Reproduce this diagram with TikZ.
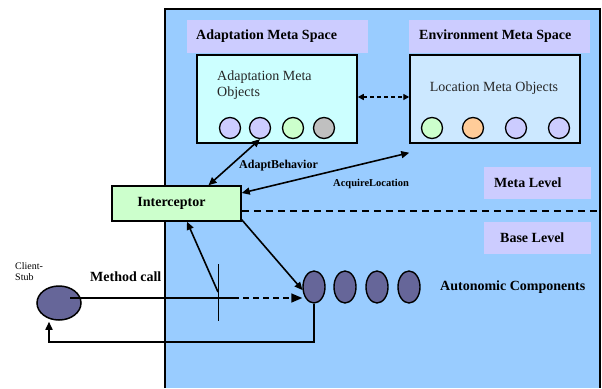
\documentclass[tikz,border=0pt]{standalone}
\usepackage{fontspec}
\setmainfont{Liberation Serif}
\usetikzlibrary{arrows.meta,shapes.geometric,calc}
\definecolor{panel}{HTML}{99CCFF}
\definecolor{lav}{HTML}{CCCCFF}
\definecolor{cyanbox}{HTML}{CCFFFF}
\definecolor{locbox}{HTML}{CCE8FF}
\definecolor{greenbox}{HTML}{CCFFCC}
\definecolor{orangec}{HTML}{FFCC99}
\definecolor{grayc}{HTML}{C0C0C0}
\definecolor{comp}{HTML}{666699}
\tikzset{
  lbl/.style={fill=lav,inner sep=0pt},
  lbltext/.style={anchor=west,inner sep=0pt,font=\bfseries\fontsize{14}{16}\selectfont},
  metabox/.style={draw=black,line width=1.5pt,inner sep=0pt},
  obj/.style={circle,draw=black,line width=1.3pt,minimum size=21pt,inner sep=0pt},
  compell/.style={ellipse,draw=black,line width=1.4pt,fill=comp,minimum width=22pt,minimum height=32pt,inner sep=0pt},
  arr/.style={line width=1.6pt,-{Triangle[length=8pt,width=7pt]}},
  darr/.style={line width=1.6pt,{Triangle[length=8pt,width=7pt]}-{Triangle[length=8pt,width=7pt]}},
  bt/.style={font=\bfseries\fontsize{14}{16}\selectfont}
}
\begin{document}
\begin{tikzpicture}[x=1pt,y=-1pt]
\useasboundingbox (0,0) rectangle (602,388);
% panel
\fill[panel] (165,9) rectangle (600,388);
\draw[line width=1.7pt] (165,388) -- (165,9) -- (600,9) -- (600,388);
% space labels
\node[lbl,minimum width=181pt,minimum height=33pt] (ams) at (277.5,36.5) {};
\node[lbltext] (amst) at (196,36.5) {Adaptation Meta Space};
\node[lbl,minimum width=181pt,minimum height=33pt] (ems) at (499.5,36.5) {};
\node[lbltext] (emst) at (419,36.5) {Environment Meta Space};
% meta object boxes
\node[metabox,fill=cyanbox,minimum width=160pt,minimum height=88pt] (amo) at (277,99) {};
\node[metabox,fill=locbox,minimum width=170pt,minimum height=88pt] (lmo) at (495,99) {};
\node[anchor=west,align=left,inner sep=0pt,text=black!85,font=\fontsize{14}{16}\selectfont] (amot) at (217,85) {Adaptation Meta\\Objects};
\node[text=black!85,font=\fontsize{14}{16}\selectfont] (lmot) at (494,88) {Location Meta Objects};
% circles
\node[obj,fill=lav] (a1) at (230,128) {};
\node[obj,fill=lav] (a2) at (260,128) {};
\node[obj,fill=greenbox] (a3) at (293,128) {};
\node[obj,fill=grayc] (a4) at (324,128) {};
\node[obj,fill=greenbox] (l1) at (432,128) {};
\node[obj,fill=orangec] (l2) at (473,128) {};
\node[obj,fill=lav] (l3) at (516,128) {};
\node[obj,fill=lav] (l4) at (559,128) {};
% interceptor
\node[metabox,fill=greenbox,minimum width=129pt,minimum height=35pt,font=\bfseries\fontsize{14}{15}\selectfont] (int) at (176.5,203.5) {\hspace*{-10pt}Interceptor};
% level labels
\node[lbl,minimum width=107pt,minimum height=32pt] (ml) at (537.5,183) {};
\node[lbltext] (mlt) at (494,183) {Meta Level};
\node[lbl,minimum width=107pt,minimum height=32pt] (bl) at (537.5,238) {};
\node[lbltext] (blt) at (500,238) {Base Level};
% dashed level separator
\coordinate (sepR) at (602,211);
\draw[line width=1.6pt,dash pattern=on 7pt off 5pt] (int.east |- sepR) -- (sepR);
% components
\node[compell] (e1) at (314,287) {};
\node[compell] (e2) at (345,287) {};
\node[compell] (e3) at (377,287) {};
\node[compell] (e4) at (409,287) {};
\node[bt,anchor=west,inner sep=0pt] (act) at (440,287) {Autonomic Components};
% client stub
\node[ellipse,draw=black,line width=1.5pt,fill=comp,minimum width=44pt,minimum height=34pt,inner sep=0pt] (cs) at (59,303) {};
\node[align=left,anchor=west,inner sep=0pt,font=\fontsize{10}{11}\selectfont] (cst) at (15,271.5) {Client-\\Stub};
\node[bt,anchor=west,inner sep=0pt] (mct) at (90,277) {Method call};
% arrows between meta boxes
\draw[line width=1.4pt,dash pattern=on 4pt off 3pt,{Triangle[length=6pt,width=6pt]}-{Triangle[length=6pt,width=6pt]}] ([yshift=2pt]amo.east) -- ([yshift=2pt]lmo.west);
% AdaptBehavior
\draw[darr] ([xshift=32pt]int.north) -- (a2.south);
\node[font=\bfseries\fontsize{12}{14}\selectfont,anchor=west,inner sep=0pt] (abt) at (239,166) {AdaptBehavior};
% AcquireLocation
\draw[darr] ([yshift=10.5pt]int.east) -- ([yshift=-9pt]lmo.south west);
\node[font=\bfseries\fontsize{10.5}{12}\selectfont,anchor=west,inner sep=0pt] (alt) at (333,184) {AcquireLocation};
% interceptor to component
\draw[arr] ([yshift=2pt]int.south east) -- (e1.195);
% method call
\coordinate (mcs) at (70,298);
\coordinate (mcm) at (233,298);
\draw[line width=1.4pt] (mcs) -- (mcm);
\draw[line width=1.4pt,dash pattern=on 6pt off 4pt,-{Triangle[length=11pt,width=9pt]}] (mcm) -- (mcm -| e1.west);
% tick
\coordinate (t1) at (218,264);
\coordinate (t2) at (218,321);
\draw[line width=0.8pt] (t1) -- (t2);
% arrow up to interceptor
\coordinate (up) at (218,292);
\draw[arr] (up) -- ([xshift=10.5pt]int.south);
% return
\draw[arr] (e1.south) -- ++(0,38) -| ([xshift=-10pt,yshift=-1pt]cs.south);
\end{tikzpicture}
\end{document}
